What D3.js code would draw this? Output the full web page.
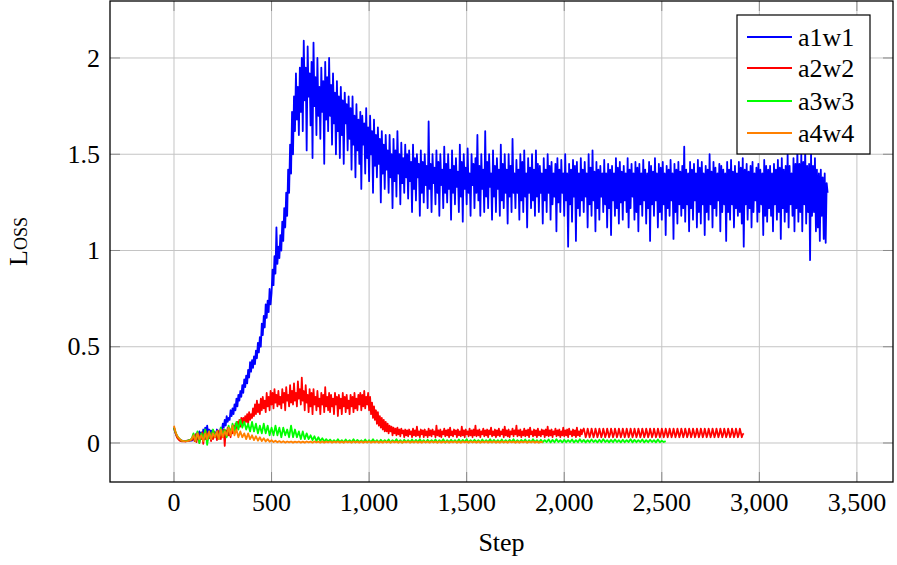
<!DOCTYPE html>
<html><head><meta charset="utf-8">
<script src="https://cdn.jsdelivr.net/npm/d3@7"></script>
<style>
html,body{margin:0;padding:0;background:#fff;}
svg{display:block;}
</style></head>
<body>
<svg id="chart" width="897" height="565" font-family="'Liberation Serif', 'DejaVu Serif', serif"></svg>
<script>
// ---- data ----
const seriesNames = ["a1w1","a2w2","a3w3","a4w4"];
const seriesColors = ["#0000ff","#ff0000","#00ff00","#ff8000"];
const seriesStepInterval = [5,5,10,10];
const xTicks = [0,500,1000,1500,2000,2500,3000,3500];
const yTicks = [0,0.5,1,1.5,2];

// a1w1: one value every 5 steps
const a1w1 = [
0.08,0.06,0.045,0.035,0.028,0.022,0.018,0.015,0.012,0.011,
0.01,0.01,0.009,0.01,0.012,0.01,0.011,0.013,0.012,0.015,
0.02,0.035,0.025,0.05,0.02,0.04,0.06,0.03,0.055,0.035,
0.07,0.04,0.08,0.05,0.09,0.045,0.07,0.05,0.065,0.04,
0.06,0.03,0.055,0.04,0.07,0.045,0.06,0.05,0.08,0.06,
0.1,0.08,0.12,0.09,0.14,0.11,0.13,0.12,0.17,0.14,
0.18,0.15,0.2,0.17,0.23,0.19,0.25,0.22,0.27,0.24,
0.3,0.26,0.33,0.29,0.35,0.31,0.38,0.34,0.42,0.37,
0.43,0.39,0.45,0.41,0.48,0.44,0.52,0.47,0.55,0.5,
0.62,0.56,0.66,0.6,0.72,0.65,0.74,0.68,0.8,0.72,
0.78,0.9,0.82,0.97,0.88,1.12,0.93,1.02,0.96,1.08,
1.0,1.15,1.05,1.22,1.12,1.3,1.18,1.42,1.3,1.55,
1.4,1.72,1.5,1.8,1.62,1.92,1.68,1.85,1.6,1.95,
1.72,2.0,1.62,2.09,1.78,1.95,1.52,2.06,1.8,1.92,
1.65,1.98,1.48,2.08,1.75,1.9,1.6,2.0,1.7,1.85,
1.58,1.95,1.72,1.88,1.45,1.98,1.68,1.9,1.62,2.0,
1.7,1.86,1.55,1.92,1.66,1.82,1.5,1.88,1.62,1.8,
1.48,1.85,1.6,1.78,1.45,1.82,1.66,1.76,1.52,1.8,
1.58,1.74,1.42,1.8,1.55,1.7,1.38,1.76,1.52,1.68,
1.45,1.72,1.32,1.7,1.55,1.66,1.4,1.74,1.48,1.64,
1.36,1.7,1.5,1.62,1.3,1.68,1.44,1.6,1.38,1.64,
1.45,1.58,1.25,1.62,1.4,1.55,1.32,1.6,1.42,1.52,
1.3,1.6,1.38,1.5,1.22,1.58,1.36,1.52,1.28,1.62,
1.4,1.5,1.24,1.56,1.35,1.48,1.3,1.55,1.38,1.5,
1.27,1.52,1.36,1.46,1.2,1.55,1.32,1.48,1.26,1.5,
1.38,1.45,1.18,1.52,1.3,1.46,1.25,1.5,1.34,1.44,
1.22,1.67,1.32,1.45,1.2,1.5,1.35,1.43,1.24,1.52,
1.3,1.46,1.18,1.5,1.34,1.42,1.22,1.54,1.3,1.45,
1.25,1.5,1.32,1.42,1.16,1.52,1.3,1.44,1.24,1.48,
1.33,1.41,1.2,1.55,1.28,1.46,1.15,1.5,1.32,1.43,
1.24,1.53,1.3,1.4,1.18,1.5,1.34,1.45,1.22,1.48,
1.3,1.6,1.26,1.44,1.18,1.5,1.32,1.42,1.2,1.62,
1.28,1.46,1.22,1.5,1.33,1.4,1.16,1.52,1.28,1.44,
1.2,1.48,1.32,1.42,1.18,1.55,1.26,1.45,1.22,1.5,
1.3,1.42,1.14,1.5,1.28,1.44,1.2,1.58,1.3,1.4,
1.22,1.47,1.3,1.42,1.16,1.5,1.26,1.46,1.2,1.52,
1.28,1.4,1.12,1.48,1.3,1.43,1.22,1.5,1.26,1.42,
1.18,1.52,1.28,1.45,1.2,1.44,1.3,1.4,1.14,1.48,
1.26,1.42,1.2,1.5,1.3,1.44,1.16,1.46,1.24,1.4,
1.28,1.45,1.1,1.48,1.25,1.42,1.2,1.47,1.3,1.4,
1.18,1.5,1.26,1.4,1.02,1.45,1.24,1.42,1.15,1.47,
1.28,1.44,1.05,1.46,1.22,1.4,1.18,1.48,1.26,1.42,
1.2,1.46,1.28,1.4,1.12,1.5,1.24,1.43,1.18,1.52,
1.26,1.41,1.1,1.46,1.22,1.42,1.16,1.44,1.28,1.4,
1.2,1.47,1.24,1.4,1.12,1.45,1.22,1.42,1.08,1.44,
1.26,1.4,1.18,1.48,1.22,1.43,1.14,1.46,1.25,1.41,
1.16,1.44,1.26,1.4,1.2,1.48,1.12,1.42,1.22,1.45,
1.28,1.4,1.16,1.46,1.2,1.43,1.1,1.45,1.24,1.4,
1.18,1.47,1.26,1.42,1.14,1.4,1.22,1.46,1.05,1.44,
1.24,1.41,1.18,1.48,1.26,1.4,1.12,1.45,1.2,1.43,
1.16,1.46,1.24,1.4,1.08,1.44,1.22,1.42,1.18,1.47,
1.26,1.4,1.06,1.45,1.2,1.42,1.14,1.46,1.24,1.41,
1.18,1.44,1.22,1.54,1.15,1.42,1.24,1.4,1.1,1.46,
1.22,1.42,1.16,1.45,1.26,1.4,1.12,1.47,1.2,1.43,
1.14,1.46,1.24,1.4,1.08,1.44,1.2,1.42,1.16,1.5,
1.24,1.41,1.12,1.46,1.22,1.43,1.18,1.4,1.26,1.45,
1.1,1.44,1.2,1.42,1.24,1.4,1.05,1.46,1.2,1.42,
1.16,1.47,1.24,1.41,1.12,1.44,1.22,1.4,1.18,1.46,
1.2,1.43,1.14,1.48,1.02,1.42,1.24,1.45,1.16,1.41,
1.22,1.44,1.12,1.46,1.2,1.4,1.26,1.43,1.15,1.45,
1.2,1.42,1.24,1.4,1.08,1.47,1.18,1.44,1.15,1.42,
1.22,1.44,1.18,1.4,1.1,1.45,1.24,1.42,1.16,1.47,
1.2,1.43,1.06,1.48,1.22,1.42,1.15,1.44,1.2,1.5,
1.12,1.44,1.24,1.4,1.18,1.48,1.1,1.45,1.22,1.52,
1.15,1.45,1.2,1.5,1.1,1.46,1.24,1.52,1.14,1.44,
1.2,1.45,0.95,1.5,1.18,1.44,1.2,1.48,1.1,1.42,
1.12,1.4,1.05,1.42,1.18,1.38,1.06,1.4,1.04,1.35,
1.3
];

// a2w2: one value every 5 steps
const a2w2 = [
0.08,0.06,0.045,0.03,0.022,0.016,0.012,0.01,0.009,0.008,
0.008,0.01,0.009,0.012,0.01,0.015,0.012,0.018,0.015,0.02,
0.035,0.01,0.045,0.005,0.03,0.05,0.0,0.04,0.02,0.055,
-0.005,0.045,0.02,0.06,0.01,0.05,0.025,0.04,0.01,0.055,
0.02,0.06,0.03,0.05,0.015,0.065,0.03,0.045,0.02,0.06,
0.03,0.07,-0.015,0.065,0.035,0.08,0.04,0.06,0.03,0.075,
0.05,0.09,0.06,0.1,0.07,0.11,0.08,0.12,0.085,0.13,
0.09,0.13,0.1,0.14,0.11,0.15,0.1,0.16,0.12,0.15,
0.13,0.18,0.14,0.2,0.15,0.22,0.16,0.2,0.15,0.23,
0.17,0.24,0.18,0.22,0.16,0.26,0.19,0.24,0.17,0.27,
0.2,0.26,0.18,0.28,0.21,0.25,0.19,0.27,0.2,0.24,
0.18,0.28,0.21,0.26,0.17,0.29,0.22,0.25,0.19,0.3,
0.21,0.27,0.2,0.31,0.22,0.26,0.19,0.32,0.23,0.28,
0.2,0.34,0.22,0.27,0.17,0.3,0.21,0.25,0.16,0.28,
0.19,0.26,0.15,0.28,0.2,0.24,0.17,0.27,0.19,0.23,
0.15,0.26,0.2,0.25,0.16,0.29,0.19,0.24,0.17,0.26,
0.16,0.25,0.19,0.23,0.15,0.26,0.2,0.24,0.14,0.25,
0.18,0.23,0.15,0.26,0.19,0.24,0.16,0.25,0.18,0.22,
0.15,0.25,0.19,0.24,0.16,0.26,0.18,0.23,0.17,0.25,
0.2,0.26,0.17,0.25,0.19,0.27,0.18,0.24,0.2,0.26,
0.17,0.24,0.15,0.21,0.13,0.19,0.12,0.17,0.1,0.16,
0.09,0.14,0.08,0.13,0.07,0.12,0.06,0.11,0.06,0.1,
0.05,0.09,0.06,0.085,0.04,0.08,0.05,0.075,0.04,0.08,
0.045,0.07,0.035,0.075,0.05,0.065,0.03,0.07,0.04,0.065,
0.035,0.07,0.045,0.06,0.03,0.075,0.04,0.065,0.035,0.085,
0.04,0.06,0.03,0.07,0.045,0.065,0.03,0.07,0.04,0.06,
0.03,0.075,0.04,0.065,0.035,0.07,0.045,0.06,0.03,0.09,
0.04,0.065,0.035,0.07,0.03,0.06,0.045,0.075,0.035,0.065,
0.04,0.07,0.03,0.08,0.04,0.06,0.035,0.07,0.045,0.065,
0.03,0.07,0.04,0.06,0.035,0.085,0.04,0.065,0.03,0.07,
0.045,0.06,0.035,0.075,0.04,0.065,0.03,0.07,0.04,0.09,
0.035,0.065,0.04,0.07,0.03,0.06,0.045,0.075,0.035,0.065,
0.04,0.07,0.03,0.065,0.045,0.08,0.035,0.06,0.04,0.07,
0.03,0.065,0.04,0.075,0.035,0.06,0.045,0.07,0.03,0.085,
0.04,0.065,0.035,0.07,0.03,0.06,0.045,0.075,0.035,0.065,
0.045,0.09,0.035,0.065,0.04,0.07,0.03,0.06,0.04,0.075,
0.035,0.065,0.04,0.07,0.03,0.08,0.045,0.06,0.035,0.07,
0.04,0.065,0.03,0.075,0.04,0.06,0.035,0.07,0.045,0.065,
0.03,0.07,0.04,0.085,0.035,0.065,0.04,0.07,0.03,0.06,
0.045,0.075,0.035,0.065,0.04,0.07,0.03,0.06,0.04,0.08,
0.035,0.065,0.04,0.07,0.03,0.075,0.045,0.06,0.035,0.07,
0.04,0.065,0.03,0.08,0.04,0.06,0.035,0.07,0.045,0.065,
0.075,0.055,0.03,0.045,0.075,0.055,0.03,0.045,0.075,0.055,
0.03,0.045,0.075,0.055,0.03,0.045,0.075,0.055,0.03,0.045,
0.075,0.055,0.03,0.045,0.075,0.055,0.03,0.045,0.075,0.055,
0.03,0.045,0.075,0.055,0.03,0.045,0.075,0.055,0.03,0.045,
0.075,0.055,0.03,0.045,0.075,0.055,0.03,0.045,0.075,0.055,
0.03,0.045,0.075,0.055,0.03,0.045,0.075,0.055,0.03,0.045,
0.075,0.055,0.03,0.045,0.075,0.055,0.03,0.045,0.075,0.055,
0.03,0.045,0.075,0.055,0.03,0.045,0.075,0.055,0.03,0.045,
0.075,0.055,0.03,0.045,0.075,0.055,0.03,0.045,0.075,0.055,
0.03,0.045,0.075,0.055,0.03,0.045,0.075,0.055,0.03,0.045,
0.075,0.055,0.03,0.045,0.075,0.055,0.03,0.045,0.075,0.055,
0.03,0.045,0.075,0.055,0.03,0.045,0.075,0.055,0.03,0.045,
0.075,0.055,0.03,0.045,0.075,0.055,0.03,0.045,0.075,0.055,
0.03,0.045,0.075,0.055,0.03,0.045,0.075,0.055,0.03,0.045,
0.075,0.055,0.03,0.045,0.075,0.055,0.03,0.045,0.075,0.055,
0.03,0.045,0.075,0.055,0.03,0.045,0.075,0.055,0.03,0.045,
0.075,0.055,0.03,0.045,0.05
];

// a3w3: one value every 10 steps
const a3w3 = [
0.08,0.05,0.03,0.02,0.012,0.01,0.01,0.012,0.015,0.02,
0.05,0.01,0.06,0.0,0.05,0.02,0.07,-0.01,0.06,0.02,
0.07,0.03,0.06,0.02,0.08,0.04,0.07,0.03,0.09,0.05,
0.1,0.06,0.11,0.07,0.12,0.08,0.11,0.07,0.1,0.06,
0.11,0.06,0.1,0.05,0.09,0.05,0.1,0.05,0.09,0.04,
0.08,0.04,0.09,0.04,0.08,0.03,0.08,0.04,0.07,0.03,
0.09,0.03,0.07,0.03,0.06,0.02,0.06,0.02,0.05,0.02,
0.04,0.015,0.035,0.01,0.03,0.01,0.025,0.008,0.02,0.008,
0.018,0.005,0.015,0.004,0.02,0.005,0.015,0.003,0.018,0.005,
0.015,0.004,0.02,0.003,0.016,0.005,0.014,0.004,0.018,0.003,
0.015,0.005,0.02,0.004,0.015,0.003,0.017,0.005,0.015,0.004,
0.018,0.003,0.015,0.005,0.02,0.004,0.015,0.002,0.017,0.005,
0.015,0.004,0.018,0.003,0.016,0.005,0.02,0.004,0.015,0.003,
0.017,0.005,0.015,0.004,0.018,0.003,0.015,0.005,0.02,0.002,
0.015,0.004,0.017,0.005,0.015,0.003,0.018,0.004,0.016,0.005,
0.02,0.003,0.015,0.004,0.017,0.005,0.015,0.003,0.018,0.004,
0.015,0.005,0.02,0.003,0.016,0.004,0.015,0.005,0.018,0.003,
0.015,0.004,0.017,0.005,0.02,0.003,0.015,0.004,0.016,0.005,
0.018,0.003,0.015,0.004,0.02,0.005,0.015,0.003,0.017,0.004,
0.015,0.005,0.018,0.003,0.016,0.004,0.02,0.005,0.015,0.003,
0.017,0.004,0.015,0.005,0.018,0.003,0.015,0.004,0.02,0.005,
0.016,0.003,0.015,0.004,0.018,0.005,0.015,0.003,0.017,0.004,
0.02,0.005,0.015,0.003,0.016,0.004,0.018,0.005,0.015,0.003,
0.017,0.004,0.015,0.005,0.02,0.003,0.016,0.004,0.015,0.005,
0.018,0.003,0.015,0.004,0.017,0.005,0.015,0.003,0.018,0.004,
0.012,0.005,0.01
];

// a4w4: one value every 10 steps
const a4w4 = [
0.09,0.05,0.03,0.02,0.012,0.01,0.008,0.01,0.012,0.02,
0.04,0.01,0.05,0.02,0.04,0.01,0.05,0.02,0.06,0.02,
0.05,0.03,0.06,0.02,0.07,0.03,0.06,0.04,0.08,0.04,
0.09,0.04,0.07,0.03,0.06,0.03,0.05,0.02,0.05,0.02,
0.04,0.015,0.035,0.012,0.03,0.01,0.025,0.008,0.02,0.006,
0.015,0.005,0.012,0.004,0.01,0.003,0.009,0.002,0.008,0.003,
0.008,0.002,0.007,0.003,0.008,0.002,0.007,0.002,0.008,0.003,
0.007,0.002,0.008,0.003,0.007,0.002,0.008,0.002,0.007,0.003,
0.008,0.002,0.007,0.003,0.008,0.002,0.007,0.002,0.008,0.003,
0.007,0.002,0.008,0.003,0.007,0.002,0.008,0.002,0.007,0.003,
0.008,0.002,0.007,0.003,0.008,0.002,0.007,0.002,0.008,0.003,
0.007,0.002,0.008,0.003,0.007,0.002,0.008,0.002,0.007,0.003,
0.008,0.002,0.007,0.003,0.008,0.002,0.007,0.002,0.008,0.003,
0.007,0.002,0.008,0.003,0.007,0.002,0.008,0.002,0.007,0.003,
0.008,0.002,0.007,0.003,0.008,0.002,0.007,0.002,0.008,0.003,
0.007,0.002,0.008,0.003,0.007,0.002,0.008,0.002,0.007,0.003,
0.008,0.002,0.007,0.003,0.008,0.002,0.007,0.002,0.008,0.003,
0.007,0.002,0.008,0.003,0.007,0.002,0.008,0.002,0.007,0.003,
0.008,0.002,0.007,0.003,0.008,0.002,0.007,0.002,0.006,0.003
];

const allSeries = [a1w1,a2w2,a3w3,a4w4];

// ---- layout ----
const svg = d3.select("#chart");
const L = 110, R = 893, T = 1, B = 482;
const x = d3.scaleLinear().domain([-328, 3685]).range([L, R]);
const y = d3.scaleLinear().domain([-0.2026, 2.296]).range([B, T]);
const FS = 26;

// grid
const grid = svg.append("g");
grid.selectAll(".gx").data(xTicks).join("line")
  .attr("x1", d => x(d)).attr("x2", d => x(d)).attr("y1", T).attr("y2", B)
  .attr("stroke", "#c4c4c4").attr("stroke-width", 1);
grid.selectAll(".gy").data(yTicks).join("line")
  .attr("y1", d => y(d)).attr("y2", d => y(d)).attr("x1", L).attr("x2", R)
  .attr("stroke", "#c4c4c4").attr("stroke-width", 1);

// tick marks (inside, both sides)
const tk = svg.append("g").attr("stroke", "#8a8a8a").attr("stroke-width", 1);
xTicks.forEach(d => {
  tk.append("line").attr("x1", x(d)).attr("x2", x(d)).attr("y1", B).attr("y2", B - 10);
  tk.append("line").attr("x1", x(d)).attr("x2", x(d)).attr("y1", T).attr("y2", T + 10);
});
yTicks.forEach(d => {
  tk.append("line").attr("y1", y(d)).attr("y2", y(d)).attr("x1", L).attr("x2", L + 10);
  tk.append("line").attr("y1", y(d)).attr("y2", y(d)).attr("x1", R).attr("x2", R - 10);
});

// series
svg.append("clipPath").attr("id", "clip").append("rect")
  .attr("x", L).attr("y", T).attr("width", R - L).attr("height", B - T);
const lines = svg.append("g").attr("clip-path", "url(#clip)");
allSeries.forEach((s, k) => {
  const line = d3.line().x((d, i) => x(i * seriesStepInterval[k])).y(d => y(d));
  lines.append("path").datum(s).attr("d", line)
    .attr("fill", "none").attr("stroke", seriesColors[k])
    .attr("stroke-width", 1.8).attr("stroke-linejoin", "round");
});

// frame
svg.append("rect").attr("x", L).attr("y", T).attr("width", R - L).attr("height", B - T)
  .attr("fill", "none").attr("stroke", "#000").attr("stroke-width", 1.3);

// tick labels
const fmtX = d3.format(",");
svg.append("g").selectAll("text").data(xTicks).join("text")
  .attr("x", d => x(d)).attr("y", 511).attr("text-anchor", "middle")
  .attr("font-size", FS).text(d => fmtX(d));
svg.append("g").selectAll("text").data(yTicks).join("text")
  .attr("x", 100).attr("y", d => y(d)).attr("dy", "0.33em").attr("text-anchor", "end")
  .attr("font-size", FS).text(d => String(d));

// axis titles
svg.append("text").attr("x", (L + R) / 2).attr("y", 551).attr("text-anchor", "middle")
  .attr("font-size", FS).text("Step");
svg.append("text").attr("transform", `translate(27,${(T + B) / 2}) rotate(-90)`)
  .attr("text-anchor", "middle").attr("font-size", FS)
  .style("font-variant", "small-caps").text("Loss");

// legend
const lg = svg.append("g");
lg.append("rect").attr("x", 737).attr("y", 15).attr("width", 133).attr("height", 139)
  .attr("fill", "#fff").attr("stroke", "#000").attr("stroke-width", 1.2);
const legY = [37, 68, 101, 133];
seriesNames.forEach((n, k) => {
  lg.append("line").attr("x1", 747).attr("x2", 792).attr("y1", legY[k]).attr("y2", legY[k])
    .attr("stroke", seriesColors[k]).attr("stroke-width", 2);
  lg.append("text").attr("x", 798).attr("y", legY[k]).attr("dy", "0.33em")
    .attr("font-size", FS).text(n);
});
</script>
</body></html>
